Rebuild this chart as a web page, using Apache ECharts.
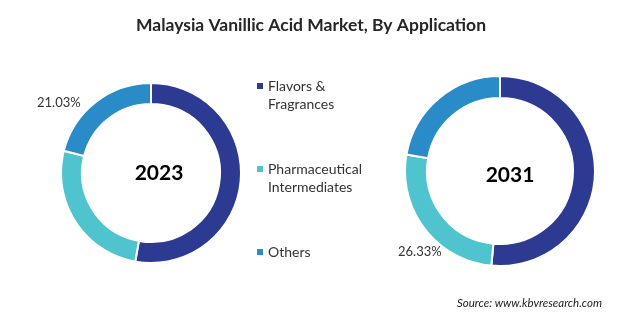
<!DOCTYPE html>
<html><head><meta charset="utf-8">
<script src="https://cdn.jsdelivr.net/npm/echarts@6/dist/echarts.min.js"></script>
<style>html,body{margin:0;padding:0;background:#fff}#c{width:622px;height:323px}</style>
</head><body><div id="c"></div>
<script>
var categories = ['Flavors &\nFragrances', 'Pharmaceutical\nIntermediates', 'Others'];
var years = ['2023', '2031'];
var values2023 = [52.8, 26.17, 21.03];
var values2031 = [51.45, 26.33, 22.22];
var shownLabel2023 = '21.03%';
var shownLabel2031 = '26.33%';
var colors = ['#2c3a91', '#4fc3ce', '#2a8bc9'];

var FONT = 'Lato';
var chart = echarts.init(document.getElementById('c'), null, {renderer: 'canvas'});

function pieData(vals) {
  return categories.map(function (c, i) { return {name: c, value: vals[i]}; });
}

var legendGraphics = [];
var legendY = [86, 169, 252];
categories.forEach(function (c, i) {
  legendGraphics.push({type: 'rect', left: 257, top: legendY[i] - 3, shape: {width: 6, height: 6}, style: {fill: colors[i]}});
  legendGraphics.push({type: 'text', left: 268, top: legendY[i] - 9,
    style: {text: c, font: '14px ' + FONT, fill: '#333', lineHeight: 18}});
});

chart.setOption({
  animation: false,
  color: colors,
  title: [
    {text: 'Malaysia Vanillic Acid Market, By Application', left: 'center', top: 11,
     textStyle: {fontFamily: FONT, fontWeight: 'bold', fontSize: 17.5, color: '#262626'}},
    {text: years[0], left: 154, top: 168, textAlign: 'center', textVerticalAlign: 'middle',
     textStyle: {fontFamily: FONT, fontWeight: 'bold', fontSize: 21, color: '#000'}},
    {text: years[1], left: 505, top: 170, textAlign: 'center', textVerticalAlign: 'middle',
     textStyle: {fontFamily: FONT, fontWeight: 'bold', fontSize: 21, color: '#000'}}
  ],
  graphic: legendGraphics.concat([
    {type: 'text', left: 37, top: 96, style: {text: shownLabel2023, font: '13px ' + FONT, fill: '#333'}},
    {type: 'text', left: 398, top: 245, style: {text: shownLabel2031, font: '13px ' + FONT, fill: '#333'}},
    {type: 'text', right: 20, top: 297, style: {text: 'Source: www.kbvresearch.com', font: 'italic 11.5px ' + FONT, fill: '#222'}}
  ]),
  series: [
    {type: 'pie', center: [151, 173], radius: [69, 90], startAngle: 90, clockwise: true,
     label: {show: false}, labelLine: {show: false}, silent: true,
     itemStyle: {borderColor: '#fff', borderWidth: 2},
     data: pieData(values2023)},
    {type: 'pie', center: [500, 171], radius: [73, 95], startAngle: 90, clockwise: true,
     label: {show: false}, labelLine: {show: false}, silent: true,
     itemStyle: {borderColor: '#fff', borderWidth: 2},
     data: pieData(values2031)}
  ]
});
</script></body></html>
